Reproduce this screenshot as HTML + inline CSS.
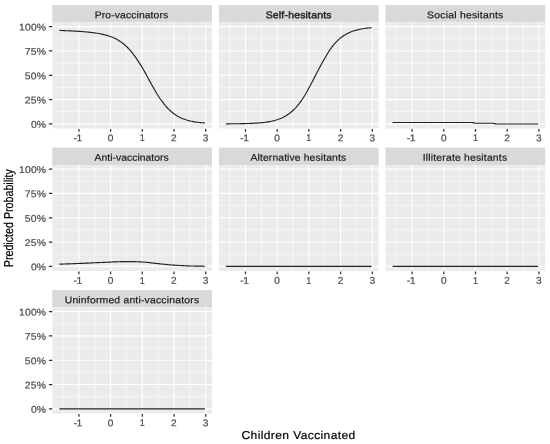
<!DOCTYPE html>
<html><head><meta charset="utf-8"><title>Predicted Probability</title>
<style>
html,body{margin:0;padding:0;background:#fff;}
body{width:550px;height:444px;position:relative;overflow:hidden;font-family:"Liberation Sans",sans-serif;}
svg{opacity:0.999;will-change:transform;}
svg text{font-family:"Liberation Sans",sans-serif;}
</style></head><body>
<svg width="550" height="444" viewBox="0 0 550 444" style="position:absolute;left:0;top:0">
<rect width="550" height="444" fill="#fff"/>
<rect x="52.30" y="5.10" width="159.7" height="17.4" fill="#d9d9d9"/>
<rect x="52.30" y="22.50" width="159.7" height="106.0" fill="#ebebeb"/>
<path d="M63.05 22.50V128.50M94.75 22.50V128.50M126.45 22.50V128.50M158.15 22.50V128.50M189.85 22.50V128.50M52.30 111.74H212.00M52.30 87.41H212.00M52.30 63.09H212.00M52.30 38.76H212.00" stroke="#fff" stroke-width="0.6" fill="none" opacity="0.9"/>
<path d="M78.90 22.50V128.50M110.60 22.50V128.50M142.30 22.50V128.50M174.00 22.50V128.50M205.70 22.50V128.50M52.30 123.90H212.00M52.30 99.58H212.00M52.30 75.25H212.00M52.30 50.93H212.00M52.30 26.60H212.00" stroke="#fff" stroke-width="1.1" fill="none"/>
<polyline points="59.40,30.41 60.86,30.47 62.31,30.52 63.77,30.58 65.22,30.64 66.68,30.71 68.13,30.77 69.59,30.84 71.04,30.91 72.50,30.99 73.95,31.06 75.41,31.15 76.86,31.23 78.32,31.33 79.77,31.42 81.23,31.53 82.68,31.64 84.14,31.75 85.60,31.88 87.05,32.01 88.51,32.15 89.96,32.31 91.42,32.47 92.87,32.65 94.33,32.84 95.78,33.05 97.24,33.28 98.69,33.53 100.15,33.79 101.60,34.09 103.06,34.41 104.51,34.75 105.97,35.14 107.42,35.55 108.88,36.01 110.33,36.51 111.79,37.06 113.24,37.66 114.70,38.32 116.15,39.05 117.61,39.84 119.06,40.70 120.52,41.65 121.97,42.67 123.43,43.79 124.88,45.01 126.34,46.33 127.79,47.76 129.25,49.29 130.70,50.94 132.16,52.71 133.61,54.59 135.07,56.58 136.52,58.69 137.98,60.91 139.43,63.18 140.89,65.38 142.34,67.69 143.80,70.26 145.25,72.88 146.71,75.54 148.16,78.22 149.62,80.90 151.07,83.56 152.53,86.18 153.98,88.75 155.44,91.26 156.89,93.68 158.35,96.01 159.80,98.24 161.26,100.27 162.71,102.20 164.17,104.10 165.62,105.87 167.08,107.52 168.53,109.05 169.99,110.46 171.44,111.76 172.90,112.95 174.35,114.04 175.81,115.04 177.26,115.94 178.72,116.76 180.17,117.50 181.63,118.17 183.08,118.78 184.54,119.32 185.99,119.81 187.45,120.25 188.90,120.64 190.36,121.00 191.81,121.31 193.27,121.59 194.72,121.85 196.18,122.07 197.63,122.27 199.09,122.45 200.54,122.61 202.00,122.75 203.45,122.88 204.91,122.99" stroke="#222" stroke-width="1.15" fill="none" stroke-linejoin="round"/>
<text transform="translate(94.80,18.20) rotate(0.03) scale(1.06,1)" font-size="9.8" textLength="69.25" lengthAdjust="spacing" fill="#1a1a1a" stroke="#1a1a1a" stroke-width="0.2">Pro-vaccinators</text>
<text transform="translate(73.60,141.20) rotate(0.03) scale(1.06,1)" font-size="9.8" textLength="8.30" lengthAdjust="spacing" fill="#474d52" stroke="#474d52" stroke-width="0.22">-1</text>
<text transform="translate(107.70,141.20) rotate(0.03) scale(1.06,1)" font-size="9.8" textLength="5.28" lengthAdjust="spacingAndGlyphs" fill="#474d52" stroke="#474d52" stroke-width="0.22">0</text>
<text transform="translate(139.70,141.20) rotate(0.03) scale(1.06,1)" font-size="9.8" textLength="4.72" lengthAdjust="spacingAndGlyphs" fill="#474d52" stroke="#474d52" stroke-width="0.22">1</text>
<text transform="translate(171.10,141.20) rotate(0.03) scale(1.06,1)" font-size="9.8" textLength="5.28" lengthAdjust="spacingAndGlyphs" fill="#474d52" stroke="#474d52" stroke-width="0.22">2</text>
<text transform="translate(202.80,141.20) rotate(0.03) scale(1.06,1)" font-size="9.8" textLength="5.28" lengthAdjust="spacingAndGlyphs" fill="#474d52" stroke="#474d52" stroke-width="0.22">3</text>
<text transform="translate(30.90,127.80) rotate(0.03) scale(1.06,1)" font-size="9.8" textLength="14.34" lengthAdjust="spacing" fill="#474d52" stroke="#474d52" stroke-width="0.22">0%</text>
<text transform="translate(24.80,103.48) rotate(0.03) scale(1.06,1)" font-size="9.8" textLength="20.09" lengthAdjust="spacing" fill="#474d52" stroke="#474d52" stroke-width="0.22">25%</text>
<text transform="translate(24.80,79.15) rotate(0.03) scale(1.06,1)" font-size="9.8" textLength="20.09" lengthAdjust="spacing" fill="#474d52" stroke="#474d52" stroke-width="0.22">50%</text>
<text transform="translate(24.80,54.83) rotate(0.03) scale(1.06,1)" font-size="9.8" textLength="20.09" lengthAdjust="spacing" fill="#474d52" stroke="#474d52" stroke-width="0.22">75%</text>
<text transform="translate(19.10,30.50) rotate(0.03) scale(1.06,1)" font-size="9.8" textLength="25.47" lengthAdjust="spacing" fill="#474d52" stroke="#474d52" stroke-width="0.22">100%</text>
<path d="M78.90 128.90v2.8M110.60 128.90v2.8M142.30 128.90v2.8M174.00 128.90v2.8M205.70 128.90v2.8M52.30 123.90h-3.4M52.30 99.58h-3.4M52.30 75.25h-3.4M52.30 50.93h-3.4M52.30 26.60h-3.4" stroke="#333" stroke-width="1.25" fill="none"/>
<rect x="218.90" y="5.10" width="159.7" height="17.4" fill="#d9d9d9"/>
<rect x="218.90" y="22.50" width="159.7" height="106.0" fill="#ebebeb"/>
<path d="M229.65 22.50V128.50M261.35 22.50V128.50M293.05 22.50V128.50M324.75 22.50V128.50M356.45 22.50V128.50M218.90 111.74H378.60M218.90 87.41H378.60M218.90 63.09H378.60M218.90 38.76H378.60" stroke="#fff" stroke-width="0.6" fill="none" opacity="0.9"/>
<path d="M245.50 22.50V128.50M277.20 22.50V128.50M308.90 22.50V128.50M340.60 22.50V128.50M372.30 22.50V128.50M218.90 123.90H378.60M218.90 99.58H378.60M218.90 75.25H378.60M218.90 50.93H378.60M218.90 26.60H378.60" stroke="#fff" stroke-width="1.1" fill="none"/>
<polyline points="226.00,123.83 227.46,123.82 228.91,123.81 230.37,123.80 231.82,123.79 233.28,123.78 234.73,123.76 236.19,123.74 237.64,123.72 239.10,123.70 240.55,123.68 242.01,123.65 243.46,123.62 244.92,123.58 246.37,123.54 247.83,123.50 249.28,123.45 250.74,123.39 252.20,123.33 253.65,123.26 255.11,123.18 256.56,123.09 258.02,122.99 259.47,122.87 260.93,122.75 262.38,122.61 263.84,122.45 265.29,122.27 266.75,122.07 268.20,121.84 269.66,121.59 271.11,121.31 272.57,120.99 274.02,120.64 275.48,120.25 276.93,119.81 278.39,119.32 279.84,118.78 281.30,118.18 282.75,117.51 284.21,116.77 285.66,115.96 287.12,115.05 288.57,114.06 290.03,112.97 291.48,111.78 292.94,110.48 294.39,109.06 295.85,107.53 297.30,105.87 298.76,104.08 300.21,102.17 301.67,100.13 303.12,97.97 304.58,95.69 306.03,93.27 307.49,90.66 308.94,87.94 310.40,85.25 311.85,82.50 313.31,79.70 314.76,76.88 316.22,74.05 317.67,71.23 319.13,68.44 320.58,65.70 322.04,63.02 323.49,60.43 324.95,57.93 326.40,55.52 327.86,53.00 329.31,50.58 330.77,48.53 332.22,46.61 333.68,44.81 335.13,43.15 336.59,41.61 338.04,40.18 339.50,38.88 340.95,37.68 342.41,36.58 343.86,35.59 345.32,34.68 346.77,33.86 348.23,33.11 349.68,32.44 351.14,31.83 352.59,31.29 354.05,30.80 355.50,30.35 356.96,29.96 358.41,29.60 359.87,29.28 361.32,28.99 362.78,28.74 364.23,28.51 365.69,28.30 367.14,28.12 368.60,27.96 370.05,27.81 371.51,27.68" stroke="#222" stroke-width="1.15" fill="none" stroke-linejoin="round"/>
<text transform="translate(265.70,18.20) rotate(0.03) scale(1.06,1)" font-size="9.8" textLength="62.08" lengthAdjust="spacing" fill="#2a2a2a" stroke="#2a2a2a" stroke-width="0.5">Self-hesitants</text>
<text transform="translate(240.20,141.20) rotate(0.03) scale(1.06,1)" font-size="9.8" textLength="8.30" lengthAdjust="spacing" fill="#474d52" stroke="#474d52" stroke-width="0.22">-1</text>
<text transform="translate(274.30,141.20) rotate(0.03) scale(1.06,1)" font-size="9.8" textLength="5.28" lengthAdjust="spacingAndGlyphs" fill="#474d52" stroke="#474d52" stroke-width="0.22">0</text>
<text transform="translate(306.30,141.20) rotate(0.03) scale(1.06,1)" font-size="9.8" textLength="4.72" lengthAdjust="spacingAndGlyphs" fill="#474d52" stroke="#474d52" stroke-width="0.22">1</text>
<text transform="translate(337.70,141.20) rotate(0.03) scale(1.06,1)" font-size="9.8" textLength="5.28" lengthAdjust="spacingAndGlyphs" fill="#474d52" stroke="#474d52" stroke-width="0.22">2</text>
<text transform="translate(369.40,141.20) rotate(0.03) scale(1.06,1)" font-size="9.8" textLength="5.28" lengthAdjust="spacingAndGlyphs" fill="#474d52" stroke="#474d52" stroke-width="0.22">3</text>
<path d="M245.50 128.90v2.8M277.20 128.90v2.8M308.90 128.90v2.8M340.60 128.90v2.8M372.30 128.90v2.8" stroke="#333" stroke-width="1.25" fill="none"/>
<rect x="385.50" y="5.10" width="159.7" height="17.4" fill="#d9d9d9"/>
<rect x="385.50" y="22.50" width="159.7" height="106.0" fill="#ebebeb"/>
<path d="M396.25 22.50V128.50M427.95 22.50V128.50M459.65 22.50V128.50M491.35 22.50V128.50M523.05 22.50V128.50M385.50 111.74H545.20M385.50 87.41H545.20M385.50 63.09H545.20M385.50 38.76H545.20" stroke="#fff" stroke-width="0.6" fill="none" opacity="0.9"/>
<path d="M412.10 22.50V128.50M443.80 22.50V128.50M475.50 22.50V128.50M507.20 22.50V128.50M538.90 22.50V128.50M385.50 123.90H545.20M385.50 99.58H545.20M385.50 75.25H545.20M385.50 50.93H545.20M385.50 26.60H545.20" stroke="#fff" stroke-width="1.1" fill="none"/>
<polyline points="392.60,122.49 394.06,122.49 395.51,122.49 396.97,122.49 398.42,122.49 399.88,122.49 401.33,122.49 402.79,122.49 404.24,122.49 405.70,122.49 407.15,122.49 408.61,122.49 410.06,122.49 411.52,122.49 412.97,122.49 414.43,122.49 415.88,122.49 417.34,122.49 418.80,122.49 420.25,122.49 421.71,122.49 423.16,122.49 424.62,122.49 426.07,122.49 427.53,122.49 428.98,122.49 430.44,122.49 431.89,122.49 433.35,122.49 434.80,122.49 436.26,122.49 437.71,122.49 439.17,122.49 440.62,122.49 442.08,122.49 443.53,122.49 444.99,122.49 446.44,122.49 447.90,122.49 449.35,122.49 450.81,122.49 452.26,122.49 453.72,122.49 455.17,122.49 456.63,122.49 458.08,122.49 459.54,122.49 460.99,122.49 462.45,122.49 463.90,122.49 465.36,122.49 466.81,122.49 468.27,122.49 469.72,122.49 471.18,122.49 472.63,122.56 474.09,122.89 475.54,123.22 477.00,123.22 478.45,123.22 479.91,123.22 481.36,123.22 482.82,123.22 484.27,123.22 485.73,123.22 487.18,123.22 488.64,123.22 490.09,123.22 491.55,123.22 493.00,123.23 494.46,123.57 495.91,123.90 497.37,123.95 498.82,123.95 500.28,123.95 501.73,123.95 503.19,123.95 504.64,123.95 506.10,123.95 507.55,123.95 509.01,123.95 510.46,123.95 511.92,123.95 513.37,123.95 514.83,123.95 516.28,123.95 517.74,123.95 519.19,123.95 520.65,123.95 522.10,123.95 523.56,123.95 525.01,123.95 526.47,123.95 527.92,123.95 529.38,123.95 530.83,123.95 532.29,123.95 533.74,123.95 535.20,123.95 536.65,123.95 538.11,123.95" stroke="#222" stroke-width="1.15" fill="none" stroke-linejoin="round"/>
<text transform="translate(427.10,18.20) rotate(0.03) scale(1.06,1)" font-size="9.8" textLength="71.89" lengthAdjust="spacing" fill="#1a1a1a" stroke="#1a1a1a" stroke-width="0.2">Social hesitants</text>
<text transform="translate(406.80,141.20) rotate(0.03) scale(1.06,1)" font-size="9.8" textLength="8.30" lengthAdjust="spacing" fill="#474d52" stroke="#474d52" stroke-width="0.22">-1</text>
<text transform="translate(440.90,141.20) rotate(0.03) scale(1.06,1)" font-size="9.8" textLength="5.28" lengthAdjust="spacingAndGlyphs" fill="#474d52" stroke="#474d52" stroke-width="0.22">0</text>
<text transform="translate(472.90,141.20) rotate(0.03) scale(1.06,1)" font-size="9.8" textLength="4.72" lengthAdjust="spacingAndGlyphs" fill="#474d52" stroke="#474d52" stroke-width="0.22">1</text>
<text transform="translate(504.30,141.20) rotate(0.03) scale(1.06,1)" font-size="9.8" textLength="5.28" lengthAdjust="spacingAndGlyphs" fill="#474d52" stroke="#474d52" stroke-width="0.22">2</text>
<text transform="translate(536.00,141.20) rotate(0.03) scale(1.06,1)" font-size="9.8" textLength="5.28" lengthAdjust="spacingAndGlyphs" fill="#474d52" stroke="#474d52" stroke-width="0.22">3</text>
<path d="M412.10 128.90v2.8M443.80 128.90v2.8M475.50 128.90v2.8M507.20 128.90v2.8M538.90 128.90v2.8" stroke="#333" stroke-width="1.25" fill="none"/>
<rect x="52.30" y="147.60" width="159.7" height="17.4" fill="#d9d9d9"/>
<rect x="52.30" y="165.00" width="159.7" height="106.0" fill="#ebebeb"/>
<path d="M63.05 165.00V271.00M94.75 165.00V271.00M126.45 165.00V271.00M158.15 165.00V271.00M189.85 165.00V271.00M52.30 254.24H212.00M52.30 229.91H212.00M52.30 205.59H212.00M52.30 181.26H212.00" stroke="#fff" stroke-width="0.6" fill="none" opacity="0.9"/>
<path d="M78.90 165.00V271.00M110.60 165.00V271.00M142.30 165.00V271.00M174.00 165.00V271.00M205.70 165.00V271.00M52.30 266.40H212.00M52.30 242.07H212.00M52.30 217.75H212.00M52.30 193.42H212.00M52.30 169.10H212.00" stroke="#fff" stroke-width="1.1" fill="none"/>
<polyline points="59.40,264.15 60.86,264.10 62.31,264.06 63.77,264.01 65.22,263.96 66.68,263.91 68.13,263.86 69.59,263.81 71.04,263.76 72.50,263.71 73.95,263.65 75.41,263.60 76.86,263.54 78.32,263.49 79.77,263.43 81.23,263.37 82.68,263.31 84.14,263.25 85.60,263.19 87.05,263.13 88.51,263.06 89.96,263.00 91.42,262.93 92.87,262.87 94.33,262.80 95.78,262.74 97.24,262.67 98.69,262.60 100.15,262.53 101.60,262.46 103.06,262.40 104.51,262.33 105.97,262.26 107.42,262.20 108.88,262.13 110.33,262.07 111.79,262.00 113.24,261.94 114.70,261.88 116.15,261.83 117.61,261.78 119.06,261.73 120.52,261.69 121.97,261.65 123.43,261.62 124.88,261.59 126.34,261.57 127.79,261.56 129.25,261.56 130.70,261.57 132.16,261.59 133.61,261.62 135.07,261.66 136.52,261.71 137.98,261.77 139.43,261.85 140.89,261.92 142.34,262.01 143.80,262.12 145.25,262.25 146.71,262.38 148.16,262.52 149.62,262.67 151.07,262.83 152.53,262.99 153.98,263.16 155.44,263.33 156.89,263.50 158.35,263.67 159.80,263.83 161.26,263.99 162.71,264.14 164.17,264.29 165.62,264.44 167.08,264.58 168.53,264.72 169.99,264.85 171.44,264.97 172.90,265.08 174.35,265.19 175.81,265.29 177.26,265.38 178.72,265.47 180.17,265.54 181.63,265.62 183.08,265.69 184.54,265.75 185.99,265.81 187.45,265.86 188.90,265.91 190.36,265.95 191.81,265.99 193.27,266.03 194.72,266.06 196.18,266.09 197.63,266.12 199.09,266.15 200.54,266.17 202.00,266.19 203.45,266.21 204.91,266.23" stroke="#222" stroke-width="1.15" fill="none" stroke-linejoin="round"/>
<text transform="translate(94.50,160.70) rotate(0.03) scale(1.06,1)" font-size="9.8" textLength="70.00" lengthAdjust="spacing" fill="#1a1a1a" stroke="#1a1a1a" stroke-width="0.2">Anti-vaccinators</text>
<text transform="translate(73.60,283.70) rotate(0.03) scale(1.06,1)" font-size="9.8" textLength="8.30" lengthAdjust="spacing" fill="#474d52" stroke="#474d52" stroke-width="0.22">-1</text>
<text transform="translate(107.70,283.70) rotate(0.03) scale(1.06,1)" font-size="9.8" textLength="5.28" lengthAdjust="spacingAndGlyphs" fill="#474d52" stroke="#474d52" stroke-width="0.22">0</text>
<text transform="translate(139.70,283.70) rotate(0.03) scale(1.06,1)" font-size="9.8" textLength="4.72" lengthAdjust="spacingAndGlyphs" fill="#474d52" stroke="#474d52" stroke-width="0.22">1</text>
<text transform="translate(171.10,283.70) rotate(0.03) scale(1.06,1)" font-size="9.8" textLength="5.28" lengthAdjust="spacingAndGlyphs" fill="#474d52" stroke="#474d52" stroke-width="0.22">2</text>
<text transform="translate(202.80,283.70) rotate(0.03) scale(1.06,1)" font-size="9.8" textLength="5.28" lengthAdjust="spacingAndGlyphs" fill="#474d52" stroke="#474d52" stroke-width="0.22">3</text>
<text transform="translate(30.90,270.30) rotate(0.03) scale(1.06,1)" font-size="9.8" textLength="14.34" lengthAdjust="spacing" fill="#474d52" stroke="#474d52" stroke-width="0.22">0%</text>
<text transform="translate(24.80,245.97) rotate(0.03) scale(1.06,1)" font-size="9.8" textLength="20.09" lengthAdjust="spacing" fill="#474d52" stroke="#474d52" stroke-width="0.22">25%</text>
<text transform="translate(24.80,221.65) rotate(0.03) scale(1.06,1)" font-size="9.8" textLength="20.09" lengthAdjust="spacing" fill="#474d52" stroke="#474d52" stroke-width="0.22">50%</text>
<text transform="translate(24.80,197.32) rotate(0.03) scale(1.06,1)" font-size="9.8" textLength="20.09" lengthAdjust="spacing" fill="#474d52" stroke="#474d52" stroke-width="0.22">75%</text>
<text transform="translate(19.10,173.00) rotate(0.03) scale(1.06,1)" font-size="9.8" textLength="25.47" lengthAdjust="spacing" fill="#474d52" stroke="#474d52" stroke-width="0.22">100%</text>
<path d="M78.90 271.40v2.8M110.60 271.40v2.8M142.30 271.40v2.8M174.00 271.40v2.8M205.70 271.40v2.8M52.30 266.40h-3.4M52.30 242.07h-3.4M52.30 217.75h-3.4M52.30 193.42h-3.4M52.30 169.10h-3.4" stroke="#333" stroke-width="1.25" fill="none"/>
<rect x="218.90" y="147.60" width="159.7" height="17.4" fill="#d9d9d9"/>
<rect x="218.90" y="165.00" width="159.7" height="106.0" fill="#ebebeb"/>
<path d="M229.65 165.00V271.00M261.35 165.00V271.00M293.05 165.00V271.00M324.75 165.00V271.00M356.45 165.00V271.00M218.90 254.24H378.60M218.90 229.91H378.60M218.90 205.59H378.60M218.90 181.26H378.60" stroke="#fff" stroke-width="0.6" fill="none" opacity="0.9"/>
<path d="M245.50 165.00V271.00M277.20 165.00V271.00M308.90 165.00V271.00M340.60 165.00V271.00M372.30 165.00V271.00M218.90 266.40H378.60M218.90 242.07H378.60M218.90 217.75H378.60M218.90 193.42H378.60M218.90 169.10H378.60" stroke="#fff" stroke-width="1.1" fill="none"/>
<polyline points="226.00,266.37 227.46,266.37 228.91,266.37 230.37,266.37 231.82,266.37 233.28,266.37 234.73,266.37 236.19,266.37 237.64,266.37 239.10,266.37 240.55,266.37 242.01,266.37 243.46,266.37 244.92,266.37 246.37,266.37 247.83,266.37 249.28,266.37 250.74,266.37 252.20,266.37 253.65,266.37 255.11,266.37 256.56,266.37 258.02,266.37 259.47,266.37 260.93,266.37 262.38,266.37 263.84,266.37 265.29,266.37 266.75,266.37 268.20,266.37 269.66,266.37 271.11,266.37 272.57,266.37 274.02,266.37 275.48,266.37 276.93,266.37 278.39,266.37 279.84,266.37 281.30,266.37 282.75,266.37 284.21,266.37 285.66,266.38 287.12,266.38 288.57,266.38 290.03,266.38 291.48,266.38 292.94,266.38 294.39,266.38 295.85,266.38 297.30,266.38 298.76,266.38 300.21,266.38 301.67,266.38 303.12,266.38 304.58,266.38 306.03,266.38 307.49,266.38 308.94,266.38 310.40,266.38 311.85,266.38 313.31,266.39 314.76,266.39 316.22,266.39 317.67,266.39 319.13,266.39 320.58,266.39 322.04,266.39 323.49,266.39 324.95,266.39 326.40,266.39 327.86,266.39 329.31,266.39 330.77,266.39 332.22,266.39 333.68,266.40 335.13,266.40 336.59,266.40 338.04,266.40 339.50,266.40 340.95,266.40 342.41,266.40 343.86,266.40 345.32,266.40 346.77,266.40 348.23,266.40 349.68,266.40 351.14,266.40 352.59,266.40 354.05,266.40 355.50,266.40 356.96,266.40 358.41,266.40 359.87,266.40 361.32,266.40 362.78,266.40 364.23,266.40 365.69,266.40 367.14,266.40 368.60,266.40 370.05,266.40 371.51,266.40" stroke="#222" stroke-width="1.15" fill="none" stroke-linejoin="round"/>
<text transform="translate(250.50,160.70) rotate(0.03) scale(1.06,1)" font-size="9.8" textLength="90.19" lengthAdjust="spacing" fill="#1a1a1a" stroke="#1a1a1a" stroke-width="0.2">Alternative hesitants</text>
<text transform="translate(240.20,283.70) rotate(0.03) scale(1.06,1)" font-size="9.8" textLength="8.30" lengthAdjust="spacing" fill="#474d52" stroke="#474d52" stroke-width="0.22">-1</text>
<text transform="translate(274.30,283.70) rotate(0.03) scale(1.06,1)" font-size="9.8" textLength="5.28" lengthAdjust="spacingAndGlyphs" fill="#474d52" stroke="#474d52" stroke-width="0.22">0</text>
<text transform="translate(306.30,283.70) rotate(0.03) scale(1.06,1)" font-size="9.8" textLength="4.72" lengthAdjust="spacingAndGlyphs" fill="#474d52" stroke="#474d52" stroke-width="0.22">1</text>
<text transform="translate(337.70,283.70) rotate(0.03) scale(1.06,1)" font-size="9.8" textLength="5.28" lengthAdjust="spacingAndGlyphs" fill="#474d52" stroke="#474d52" stroke-width="0.22">2</text>
<text transform="translate(369.40,283.70) rotate(0.03) scale(1.06,1)" font-size="9.8" textLength="5.28" lengthAdjust="spacingAndGlyphs" fill="#474d52" stroke="#474d52" stroke-width="0.22">3</text>
<path d="M245.50 271.40v2.8M277.20 271.40v2.8M308.90 271.40v2.8M340.60 271.40v2.8M372.30 271.40v2.8" stroke="#333" stroke-width="1.25" fill="none"/>
<rect x="385.50" y="147.60" width="159.7" height="17.4" fill="#d9d9d9"/>
<rect x="385.50" y="165.00" width="159.7" height="106.0" fill="#ebebeb"/>
<path d="M396.25 165.00V271.00M427.95 165.00V271.00M459.65 165.00V271.00M491.35 165.00V271.00M523.05 165.00V271.00M385.50 254.24H545.20M385.50 229.91H545.20M385.50 205.59H545.20M385.50 181.26H545.20" stroke="#fff" stroke-width="0.6" fill="none" opacity="0.9"/>
<path d="M412.10 165.00V271.00M443.80 165.00V271.00M475.50 165.00V271.00M507.20 165.00V271.00M538.90 165.00V271.00M385.50 266.40H545.20M385.50 242.07H545.20M385.50 217.75H545.20M385.50 193.42H545.20M385.50 169.10H545.20" stroke="#fff" stroke-width="1.1" fill="none"/>
<polyline points="392.60,266.37 394.06,266.37 395.51,266.37 396.97,266.37 398.42,266.37 399.88,266.37 401.33,266.37 402.79,266.37 404.24,266.37 405.70,266.37 407.15,266.37 408.61,266.37 410.06,266.37 411.52,266.37 412.97,266.37 414.43,266.37 415.88,266.37 417.34,266.37 418.80,266.37 420.25,266.37 421.71,266.37 423.16,266.37 424.62,266.37 426.07,266.37 427.53,266.37 428.98,266.37 430.44,266.37 431.89,266.37 433.35,266.37 434.80,266.37 436.26,266.37 437.71,266.37 439.17,266.37 440.62,266.37 442.08,266.37 443.53,266.37 444.99,266.37 446.44,266.37 447.90,266.37 449.35,266.37 450.81,266.37 452.26,266.38 453.72,266.38 455.17,266.38 456.63,266.38 458.08,266.38 459.54,266.38 460.99,266.38 462.45,266.38 463.90,266.38 465.36,266.38 466.81,266.38 468.27,266.38 469.72,266.38 471.18,266.38 472.63,266.38 474.09,266.38 475.54,266.38 477.00,266.38 478.45,266.38 479.91,266.39 481.36,266.39 482.82,266.39 484.27,266.39 485.73,266.39 487.18,266.39 488.64,266.39 490.09,266.39 491.55,266.39 493.00,266.39 494.46,266.39 495.91,266.39 497.37,266.39 498.82,266.39 500.28,266.40 501.73,266.40 503.19,266.40 504.64,266.40 506.10,266.40 507.55,266.40 509.01,266.40 510.46,266.40 511.92,266.40 513.37,266.40 514.83,266.40 516.28,266.40 517.74,266.40 519.19,266.40 520.65,266.40 522.10,266.40 523.56,266.40 525.01,266.40 526.47,266.40 527.92,266.40 529.38,266.40 530.83,266.40 532.29,266.40 533.74,266.40 535.20,266.40 536.65,266.40 538.11,266.40" stroke="#222" stroke-width="1.15" fill="none" stroke-linejoin="round"/>
<text transform="translate(422.70,160.70) rotate(0.03) scale(1.06,1)" font-size="9.8" textLength="79.62" lengthAdjust="spacing" fill="#1a1a1a" stroke="#1a1a1a" stroke-width="0.2">Illiterate hesitants</text>
<text transform="translate(406.80,283.70) rotate(0.03) scale(1.06,1)" font-size="9.8" textLength="8.30" lengthAdjust="spacing" fill="#474d52" stroke="#474d52" stroke-width="0.22">-1</text>
<text transform="translate(440.90,283.70) rotate(0.03) scale(1.06,1)" font-size="9.8" textLength="5.28" lengthAdjust="spacingAndGlyphs" fill="#474d52" stroke="#474d52" stroke-width="0.22">0</text>
<text transform="translate(472.90,283.70) rotate(0.03) scale(1.06,1)" font-size="9.8" textLength="4.72" lengthAdjust="spacingAndGlyphs" fill="#474d52" stroke="#474d52" stroke-width="0.22">1</text>
<text transform="translate(504.30,283.70) rotate(0.03) scale(1.06,1)" font-size="9.8" textLength="5.28" lengthAdjust="spacingAndGlyphs" fill="#474d52" stroke="#474d52" stroke-width="0.22">2</text>
<text transform="translate(536.00,283.70) rotate(0.03) scale(1.06,1)" font-size="9.8" textLength="5.28" lengthAdjust="spacingAndGlyphs" fill="#474d52" stroke="#474d52" stroke-width="0.22">3</text>
<path d="M412.10 271.40v2.8M443.80 271.40v2.8M475.50 271.40v2.8M507.20 271.40v2.8M538.90 271.40v2.8" stroke="#333" stroke-width="1.25" fill="none"/>
<rect x="52.30" y="290.10" width="159.7" height="17.4" fill="#d9d9d9"/>
<rect x="52.30" y="307.50" width="159.7" height="106.0" fill="#ebebeb"/>
<path d="M63.05 307.50V413.50M94.75 307.50V413.50M126.45 307.50V413.50M158.15 307.50V413.50M189.85 307.50V413.50M52.30 396.74H212.00M52.30 372.41H212.00M52.30 348.09H212.00M52.30 323.76H212.00" stroke="#fff" stroke-width="0.6" fill="none" opacity="0.9"/>
<path d="M78.90 307.50V413.50M110.60 307.50V413.50M142.30 307.50V413.50M174.00 307.50V413.50M205.70 307.50V413.50M52.30 408.90H212.00M52.30 384.57H212.00M52.30 360.25H212.00M52.30 335.92H212.00M52.30 311.60H212.00" stroke="#fff" stroke-width="1.1" fill="none"/>
<polyline points="59.40,408.87 60.86,408.87 62.31,408.87 63.77,408.87 65.22,408.87 66.68,408.87 68.13,408.87 69.59,408.87 71.04,408.87 72.50,408.87 73.95,408.87 75.41,408.87 76.86,408.87 78.32,408.87 79.77,408.87 81.23,408.87 82.68,408.87 84.14,408.87 85.60,408.87 87.05,408.87 88.51,408.87 89.96,408.87 91.42,408.87 92.87,408.87 94.33,408.87 95.78,408.87 97.24,408.87 98.69,408.87 100.15,408.87 101.60,408.87 103.06,408.87 104.51,408.87 105.97,408.87 107.42,408.87 108.88,408.87 110.33,408.87 111.79,408.87 113.24,408.87 114.70,408.87 116.15,408.87 117.61,408.87 119.06,408.88 120.52,408.88 121.97,408.88 123.43,408.88 124.88,408.88 126.34,408.88 127.79,408.88 129.25,408.88 130.70,408.88 132.16,408.88 133.61,408.88 135.07,408.88 136.52,408.88 137.98,408.88 139.43,408.88 140.89,408.88 142.34,408.88 143.80,408.88 145.25,408.88 146.71,408.89 148.16,408.89 149.62,408.89 151.07,408.89 152.53,408.89 153.98,408.89 155.44,408.89 156.89,408.89 158.35,408.89 159.80,408.89 161.26,408.89 162.71,408.89 164.17,408.89 165.62,408.89 167.08,408.90 168.53,408.90 169.99,408.90 171.44,408.90 172.90,408.90 174.35,408.90 175.81,408.90 177.26,408.90 178.72,408.90 180.17,408.90 181.63,408.90 183.08,408.90 184.54,408.90 185.99,408.90 187.45,408.90 188.90,408.90 190.36,408.90 191.81,408.90 193.27,408.90 194.72,408.90 196.18,408.90 197.63,408.90 199.09,408.90 200.54,408.90 202.00,408.90 203.45,408.90 204.91,408.90" stroke="#222" stroke-width="1.15" fill="none" stroke-linejoin="round"/>
<text transform="translate(64.70,303.20) rotate(0.03) scale(1.06,1)" font-size="9.8" textLength="126.79" lengthAdjust="spacing" fill="#1a1a1a" stroke="#1a1a1a" stroke-width="0.2">Uninformed anti-vaccinators</text>
<text transform="translate(73.60,426.20) rotate(0.03) scale(1.06,1)" font-size="9.8" textLength="8.30" lengthAdjust="spacing" fill="#474d52" stroke="#474d52" stroke-width="0.22">-1</text>
<text transform="translate(107.70,426.20) rotate(0.03) scale(1.06,1)" font-size="9.8" textLength="5.28" lengthAdjust="spacingAndGlyphs" fill="#474d52" stroke="#474d52" stroke-width="0.22">0</text>
<text transform="translate(139.70,426.20) rotate(0.03) scale(1.06,1)" font-size="9.8" textLength="4.72" lengthAdjust="spacingAndGlyphs" fill="#474d52" stroke="#474d52" stroke-width="0.22">1</text>
<text transform="translate(171.10,426.20) rotate(0.03) scale(1.06,1)" font-size="9.8" textLength="5.28" lengthAdjust="spacingAndGlyphs" fill="#474d52" stroke="#474d52" stroke-width="0.22">2</text>
<text transform="translate(202.80,426.20) rotate(0.03) scale(1.06,1)" font-size="9.8" textLength="5.28" lengthAdjust="spacingAndGlyphs" fill="#474d52" stroke="#474d52" stroke-width="0.22">3</text>
<text transform="translate(30.90,412.80) rotate(0.03) scale(1.06,1)" font-size="9.8" textLength="14.34" lengthAdjust="spacing" fill="#474d52" stroke="#474d52" stroke-width="0.22">0%</text>
<text transform="translate(24.80,388.47) rotate(0.03) scale(1.06,1)" font-size="9.8" textLength="20.09" lengthAdjust="spacing" fill="#474d52" stroke="#474d52" stroke-width="0.22">25%</text>
<text transform="translate(24.80,364.15) rotate(0.03) scale(1.06,1)" font-size="9.8" textLength="20.09" lengthAdjust="spacing" fill="#474d52" stroke="#474d52" stroke-width="0.22">50%</text>
<text transform="translate(24.80,339.82) rotate(0.03) scale(1.06,1)" font-size="9.8" textLength="20.09" lengthAdjust="spacing" fill="#474d52" stroke="#474d52" stroke-width="0.22">75%</text>
<text transform="translate(19.10,315.50) rotate(0.03) scale(1.06,1)" font-size="9.8" textLength="25.47" lengthAdjust="spacing" fill="#474d52" stroke="#474d52" stroke-width="0.22">100%</text>
<path d="M78.90 413.90v2.8M110.60 413.90v2.8M142.30 413.90v2.8M174.00 413.90v2.8M205.70 413.90v2.8M52.30 408.90h-3.4M52.30 384.57h-3.4M52.30 360.25h-3.4M52.30 335.92h-3.4M52.30 311.60h-3.4" stroke="#333" stroke-width="1.25" fill="none"/>
<text transform="translate(241.50,438.90) rotate(0.03) scale(1.06,1)" font-size="11.4" textLength="107.36" lengthAdjust="spacing" fill="#000" stroke="#000" stroke-width="0.2">Children Vaccinated</text>
<g transform="translate(13.4,218.2) rotate(-90)"><text transform="translate(-49.00,0.00) rotate(0.03) scale(0.83,1)" font-size="12.9" textLength="118.07" lengthAdjust="spacing" fill="#000" stroke="#000" stroke-width="0.2">Predicted Probability</text></g>
</svg>
</body></html>
